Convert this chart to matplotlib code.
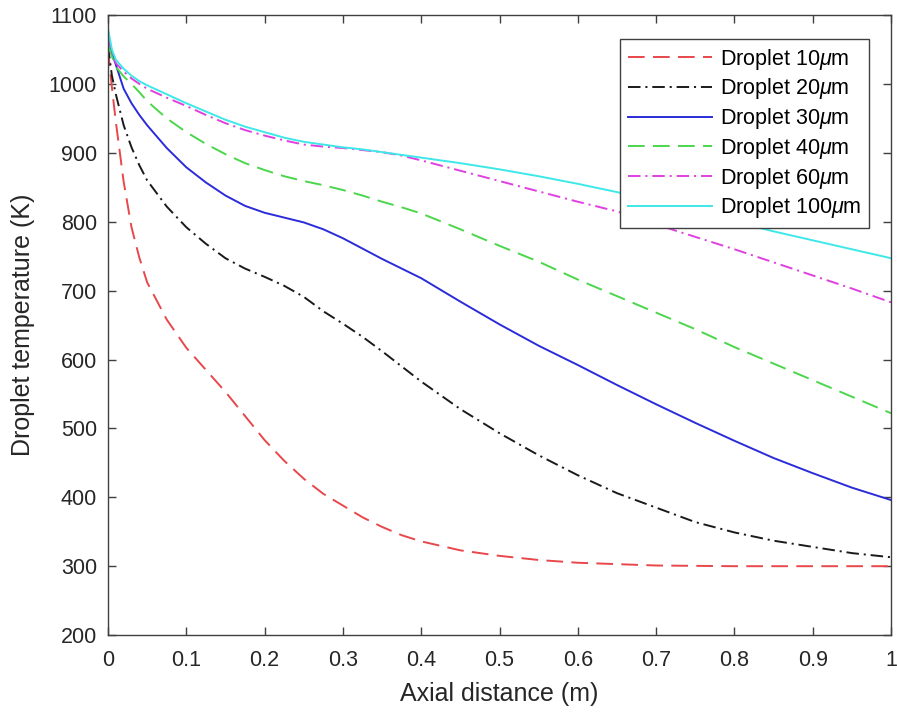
import matplotlib
matplotlib.use('Agg')
import matplotlib.pyplot as plt

plt.rcParams['font.family'] = ['Liberation Sans', 'DejaVu Sans']
plt.rcParams['mathtext.fontset'] = 'custom'
plt.rcParams['mathtext.rm'] = 'Liberation Sans'
plt.rcParams['mathtext.it'] = 'Liberation Sans:italic'
plt.rcParams['lines.scale_dashes'] = False

# axial distance (m)
x = [0, 0.005, 0.01, 0.02, 0.03, 0.04, 0.05, 0.075, 0.1, 0.125, 0.15, 0.175, 0.2,
     0.225, 0.25, 0.275, 0.3, 0.325, 0.35, 0.375, 0.4, 0.45, 0.5, 0.55, 0.6, 0.65,
     0.7, 0.75, 0.8, 0.85, 0.9, 0.95, 1.0]

# droplet temperature (K) for each diameter
t10 = [1050, 995, 945, 858, 792, 748, 712, 658, 617, 585, 553, 518, 483,
       453, 427, 405, 388, 371, 357, 345, 336, 323, 315, 309, 305, 303,
       301, 300.5, 300, 300, 300, 300, 300]
t20 = [1055, 1012, 985, 940, 908, 882, 860, 822, 792, 768, 747, 732, 720,
       707, 691, 670, 652, 633, 612, 590, 568, 528, 493, 461, 432, 406,
       385, 364, 349, 337, 328, 319, 313]
t30 = [1062, 1045, 1028, 993, 972, 955, 940, 907, 879, 857, 838, 823, 813,
       806, 799, 789, 776, 761, 746, 732, 718, 684, 651, 620, 592, 563,
       535, 508, 482, 457, 435, 414, 396]
t40 = [1058, 1040, 1025, 1011, 1000, 988, 975, 950, 930, 913, 898, 885, 875,
       866, 859, 853, 846, 838, 829, 821, 812, 789, 765, 742, 716, 692,
       668, 644, 618, 594, 570, 546, 522]
t60 = [1070, 1045, 1030, 1018, 1008, 1000, 993, 980, 968, 955, 943, 933, 925,
       918, 912, 909, 907, 904, 901, 896, 889, 874, 859, 844, 829, 815,
       796, 778, 760, 741, 722, 703, 683]
t100 = [1080, 1050, 1035, 1022, 1012, 1004, 998, 985, 972, 960, 948, 938, 930,
        922, 916, 912, 908, 905, 901, 897, 893, 885, 876, 866, 855, 843,
        830, 816, 800, 786, 773, 760, 747]

labels = ['Droplet 10$\\mu$m', 'Droplet 20$\\mu$m', 'Droplet 30$\\mu$m',
          'Droplet 40$\\mu$m', 'Droplet 60$\\mu$m', 'Droplet 100$\\mu$m']

fig = plt.figure(figsize=(8.97, 7.16), dpi=100)
ax = fig.add_axes([0.1204, 0.113, 0.873, 0.866])

lw = 1.4
ax.plot(x, t10, color='#e8474b', lw=lw, dashes=(12, 6), label=labels[0])
ax.plot(x, t20, color='#1a1a1a', lw=lw, dashes=(9, 3.5, 1.5, 3.5), label=labels[1])
ax.plot(x, t30, color='#2b2bd9', lw=lw, label=labels[2])
ax.plot(x, t40, color='#4bd64b', lw=lw, dashes=(12, 6), label=labels[3])
ax.plot(x, t60, color='#e040e0', lw=lw, dashes=(9, 3.5, 1.5, 3.5), label=labels[4])
ax.plot(x, t100, color='#3ee8e8', lw=lw, label=labels[5])

ax.set_xlim(0, 1)
ax.set_ylim(200, 1100)
ax.set_xticks([0, 0.1, 0.2, 0.3, 0.4, 0.5, 0.6, 0.7, 0.8, 0.9, 1])
ax.set_xticklabels(['0', '0.1', '0.2', '0.3', '0.4', '0.5', '0.6', '0.7', '0.8', '0.9', '1'])
ax.set_yticks(range(200, 1101, 100))

for s in ax.spines.values():
    s.set_color('#404040')
    s.set_linewidth(1.0)
ax.tick_params(direction='in', length=6, width=1, color='#404040',
               labelsize=15.5, labelcolor='#262626', top=True, right=True, pad=8)
ax.tick_params(axis='x', pad=11)

ax.set_xlabel('Axial distance (m)', fontsize=18, color='#262626', labelpad=8)
ax.set_ylabel('Droplet temperature (K)', fontsize=18, color='#262626', labelpad=10)

leg = ax.legend(loc='upper right', bbox_to_anchor=(0.972, 0.961), fontsize=15.5,
                fancybox=False, framealpha=1, edgecolor='#404040',
                handlelength=3.9, labelspacing=0.22, borderpad=0.35,
                handletextpad=0.4, borderaxespad=0)
leg.get_frame().set_linewidth(1.0)

plt.savefig('out.png', dpi=100)
